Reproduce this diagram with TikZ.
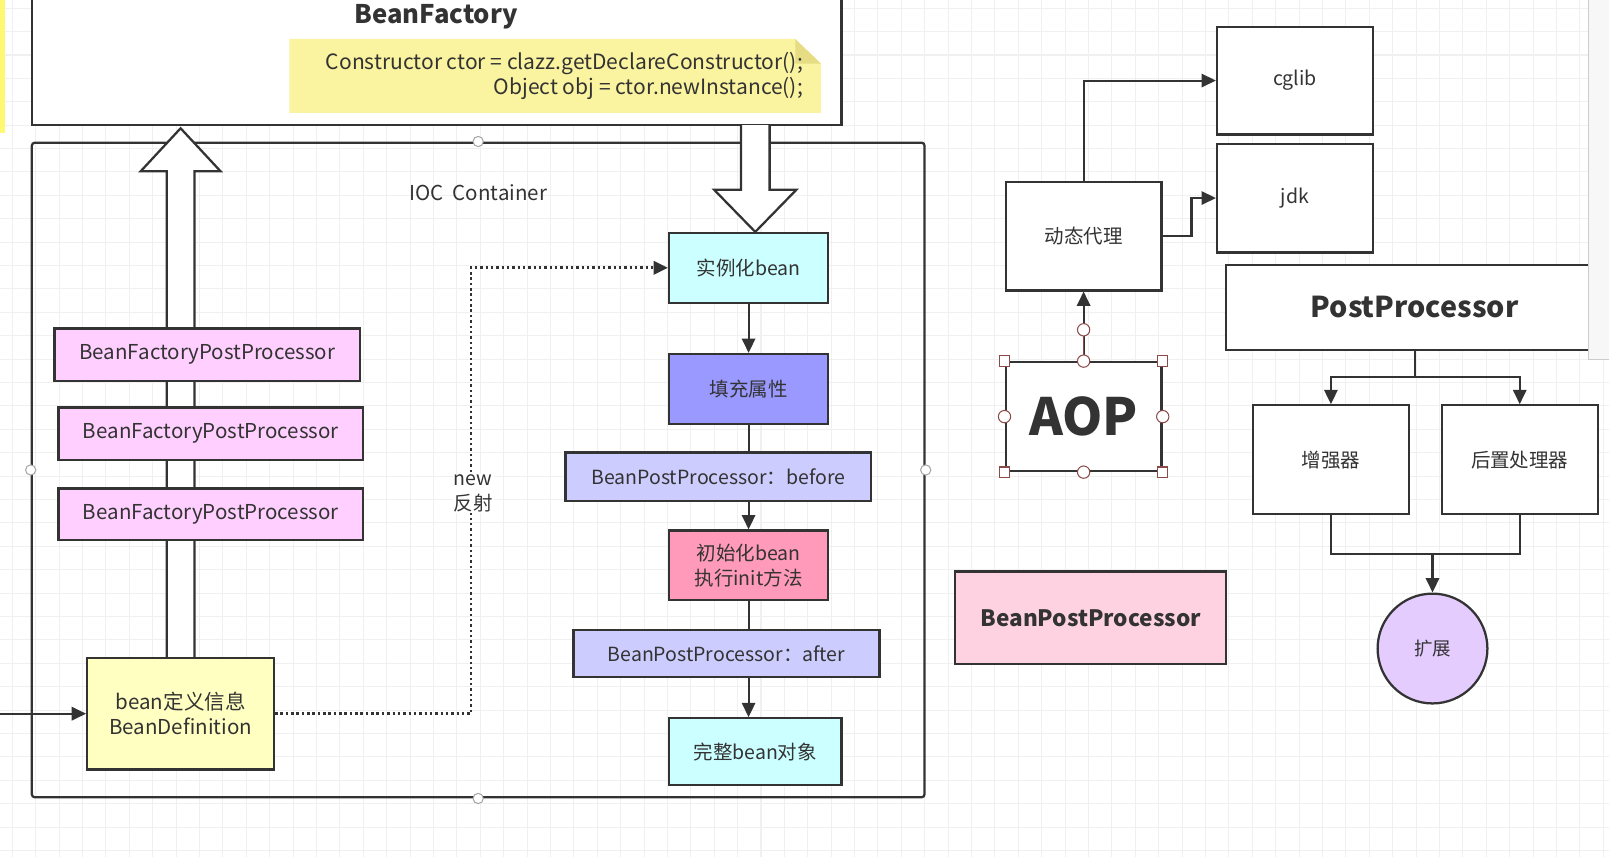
\documentclass[tikz,border=0pt]{standalone}
\usepackage{fontspec}
\setmainfont{Noto Sans CJK SC}
\usetikzlibrary{arrows.meta,calc,positioning}

\definecolor{inkgray}{HTML}{333333}
\definecolor{bfppfill}{HTML}{FFD0FF}
\definecolor{bdfill}{HTML}{FFFFC2}
\definecolor{cyanfill}{HTML}{CCFFFF}
\definecolor{fillfill}{HTML}{9999FF}
\definecolor{bppfill}{HTML}{CCCCFF}
\definecolor{initfill}{HTML}{FF9ABB}
\definecolor{extfill}{HTML}{E5CCFF}
\definecolor{pinkfill}{HTML}{FFD2E2}
\definecolor{notefill}{HTML}{FAF3A0}
\definecolor{notefold}{HTML}{E6DC84}
\definecolor{selred}{HTML}{8A4A4A}

\tikzset{
  box/.style={draw=inkgray, line width=2.2pt, text=inkgray, align=center, inner sep=2pt},
  f18/.style={font=\fontsize{18}{23}\selectfont},
  f19/.style={font=\fontsize{19}{24}\selectfont},
  f20/.style={font=\fontsize{20}{24}\selectfont},
  arr/.style={draw=inkgray, line width=2pt, -{Triangle[length=14pt,width=13pt]}},
  dotarr/.style={draw=inkgray, line width=2.6pt, dash pattern=on 2.4pt off 2.8pt, -{Triangle[length=14pt,width=13pt]}},
  blockarr/.style={draw=inkgray, line width=2.2pt, fill=white, line join=miter},
  handle/.style={circle, draw=gray!70, fill=white, line width=1pt, inner sep=0pt, minimum size=10pt},
  aophandle/.style={draw=selred, fill=white, line width=1pt, inner sep=0pt, minimum size=10pt},
}

\begin{document}
\begin{tikzpicture}[x=1pt,y=-1pt]
  \useasboundingbox (0,0) rectangle (1568,835);
  \fill[white] (0,0) rectangle (1568,835);
  % grid
  \foreach \g in {12,34.8,...,1568} \draw[gray!12, line width=1pt] (\g,0) -- (\g,835);
  \foreach \g in {8,30.8,...,835} \draw[gray!12, line width=1pt] (0,\g) -- (1568,\g);
  \fill[yellow!55] (0,0) rectangle (5,130);

  % BeanFactory
  \node[box, fill=white, minimum width=789pt, minimum height=150pt] (factory) at (425.5,47) {};
  \node[font=\bfseries\fontsize{25}{30}\selectfont, text=inkgray, inner sep=0pt] (factitle) at (425,16) {BeanFactory};
  \fill[notefill] (282,38) -- (775,38) -- (800,62) -- (800,110) -- (282,110) -- cycle;
  \fill[notefold] (775,38) -- (775,62) -- (800,62) -- cycle;
  \node[text=inkgray, align=right, anchor=east, font=\fontsize{20.5}{25}\selectfont] (code) at (786,74)
    {Constructor ctor = clazz.getDeclareConstructor();\\Object obj = ctor.newInstance();};

  % IOC Container
  \node[draw=inkgray, line width=2.2pt, rounded corners=3pt, minimum width=870pt, minimum height=638pt] (ioc) at (466,458) {};
  \node[f20, text=inkgray] (ioclbl) at (466,188) {IOC\ \ Container};

  \draw[blockarr] (162.5,641) -- (162.5,167) -- (137,167) -- (176,125) -- (215,167) -- (189.5,167) -- (189.5,641);
  \draw[blockarr] (722,122) -- (722,185) -- (696,185) -- (736,226) -- (776,185) -- (750,185) -- (750,122);

  \node[box, fill=bfppfill, f20, minimum width=298pt, minimum height=51pt] (bfpp1) at (202,345.5) {BeanFactoryPostProcessor};
  \node[box, fill=bfppfill, f20, minimum width=297pt, minimum height=51pt] (bfpp2) at (205.5,422.5) {BeanFactoryPostProcessor};
  \node[box, fill=bfppfill, f20, minimum width=297pt, minimum height=50pt] (bfpp3) at (205.5,501) {BeanFactoryPostProcessor};
  \node[box, fill=bdfill, f20, minimum width=182pt, minimum height=109pt] (bd) at (176,695.5) {bean定义信息\\BeanDefinition};

  \node[box, fill=cyanfill, f19, minimum width=155pt, minimum height=68pt] (inst) at (729.5,261) {实例化bean};
  \node[box, fill=fillfill, f19, minimum width=155pt, minimum height=68pt] (fillp) at (729.5,379) {填充属性};
  \node[box, fill=bppfill, f19, minimum width=298pt, minimum height=47pt] (before) at (700,464.5) {BeanPostProcessor：before};
  \node[box, fill=initfill, f19, minimum width=155pt, minimum height=68pt] (init) at (729.5,551) {初始化bean\\执行init方法};
  \node[box, fill=bppfill, f19, minimum width=298pt, minimum height=46pt] (after) at (708,637) {BeanPostProcessor：after};
  \node[box, fill=cyanfill, f19, minimum width=168pt, minimum height=65pt] (whole) at (736,732.5) {完整bean对象};

  \coordinate (inlet) at (0,695.5);
  \coordinate (turn) at (459,695.5);
  \draw[arr] (inlet) -- (bd.west);
  \draw[dotarr] (bd.east) -- (turn) |- (inst.west);
  \node[f19, text=inkgray, fill=white, inner sep=1pt, align=center] (newlbl) at (461,481) {new\\反射};

  \draw[arr] (inst.south) -- (fillp.north);
  \draw[draw=inkgray, line width=2pt] (fillp.south) -- (fillp.south |- before.north);
  \draw[arr] (init.north |- before.south) -- (init.north);
  \draw[draw=inkgray, line width=2pt] (init.south) -- (init.south |- after.north);
  \draw[arr] (init.south |- after.south) -- (init.south |- whole.north);

  \foreach \a in {north,west,east,south} \node[handle] at (ioc.\a) {};

  % AOP side
  \node[box, fill=white, f19, minimum width=152pt, minimum height=105pt] (cglib) at (1262,78.5) {cglib};
  \node[box, fill=white, f19, minimum width=152pt, minimum height=106pt] (jdk) at (1262,193) {jdk};
  \node[box, fill=white, f19, minimum width=152pt, minimum height=106pt] (proxy) at (1056,230) {动态代理};
  \node[box, fill=white, font=\bfseries\fontsize{50}{56}\selectfont, minimum width=152pt, minimum height=106pt] (aop) at (1056,406) {AOP};
  \draw[arr] (proxy.north) |- (cglib.west);
  \draw[arr] (proxy.east) -- ++(28,0) |- (jdk.west);
  \draw[arr] (aop.north) -- (proxy.south);
  \draw[draw=selred, line width=1.5pt] (aop.north) -- ($(aop.north)!0.45!(proxy.south)$);
  \node[aophandle, circle, minimum size=12pt] at ($(aop.north)!0.45!(proxy.south)$) {};
  \foreach \a in {north west,north east,south west,south east} \node[aophandle] at (aop.\a) {};
  \foreach \a in {north,west,east,south} \node[aophandle, circle, minimum size=12pt] at (aop.\a) {};

  % PostProcessor side
  \node[box, fill=white, font=\bfseries\fontsize{28}{32}\selectfont, minimum width=367pt, minimum height=83pt] (post) at (1378.5,299.5) {PostProcessor};
  \node[box, fill=white, f19, minimum width=152pt, minimum height=106pt] (enh) at (1297,448) {增强器};
  \node[box, fill=white, f19, minimum width=152pt, minimum height=106pt] (postp) at (1481,448) {后置处理器};
  \node[box, circle, fill=extfill, f18, minimum size=107pt] (ext) at (1396,632) {扩展};
  \node[box, fill=pinkfill, font=\bfseries\fontsize{22}{26}\selectfont, minimum width=264pt, minimum height=90pt] (bpp) at (1063,602) {BeanPostProcessor};
  \coordinate (split) at (1378.5,367);
  \coordinate (merge) at (1396,540);
  \draw[arr] (post.south) -- (split) -| (enh.north);
  \draw[arr] (split) -| (postp.north);
  \draw[draw=inkgray, line width=2pt] (enh.south) |- (merge) -| (postp.south);
  \draw[arr] (merge) -- (ext.north);

  % side panel
  \fill[gray!6] (1548,0) rectangle (1568,350);
  \draw[gray!40, line width=1pt] (1548,0) -- (1548,350) -- (1568,350);
\end{tikzpicture}
\end{document}
